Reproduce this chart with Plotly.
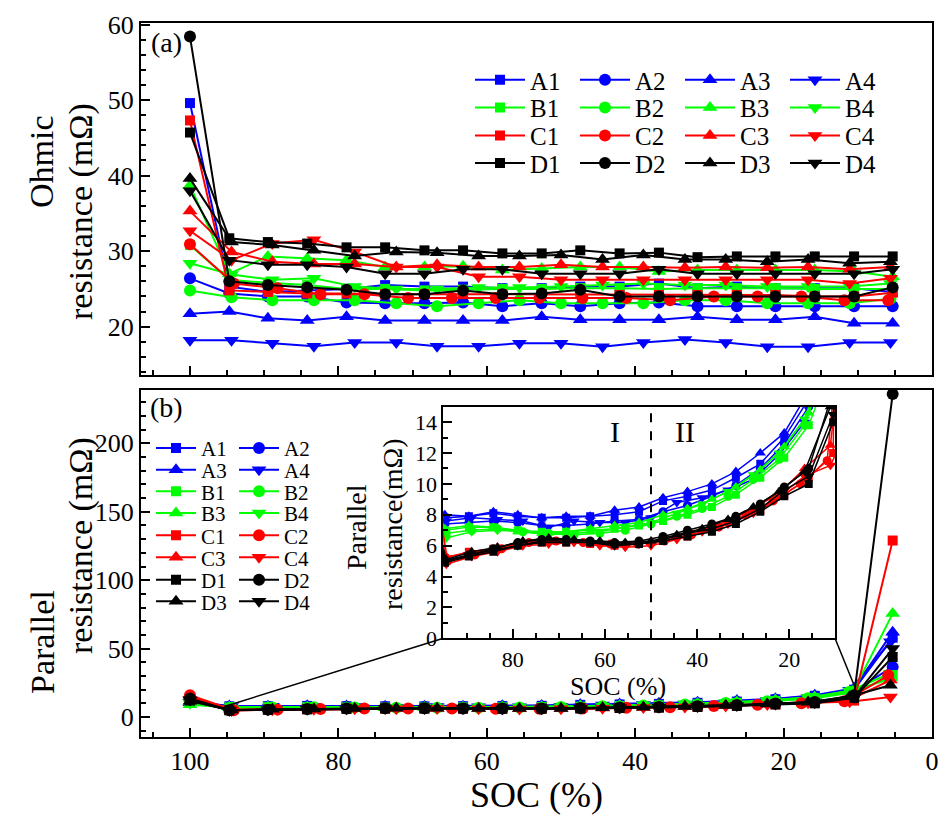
import plotly.graph_objects as go

# ---------------- data ----------------
soc19 = [100, 94.7, 89.5, 84.2, 78.9, 73.7, 68.4, 63.2, 57.9, 52.6, 47.4, 42.1, 36.8, 31.6, 26.3, 21.1, 15.8, 10.5, 5.3]
soc18 = [100, 94.4, 88.9, 83.3, 77.8, 72.2, 66.7, 61.1, 55.6, 50.0, 44.4, 38.9, 33.3, 27.8, 22.2, 16.7, 11.1, 5.6]
soc17 = [100, 94.1, 88.2, 82.4, 76.5, 70.6, 64.7, 58.8, 52.9, 47.1, 41.2, 35.3, 29.4, 23.5, 17.6, 11.8, 5.9]

cells = ["A1", "A2", "A3", "A4", "B1", "B2", "B3", "B4",
         "C1", "C2", "C3", "C4", "D1", "D2", "D3", "D4"]

soc_grid = {"A1": soc19, "A2": soc19, "A3": soc19, "A4": soc18,
            "B1": soc19, "B2": soc18, "B3": soc19, "B4": soc18,
            "C1": soc19, "C2": soc17, "C3": soc18, "C4": soc18,
            "D1": soc19, "D2": soc19, "D3": soc18, "D4": soc19}

# Ohmic resistance (mOhm)
ohm_A1 = [49.6, 25.3, 24.6, 24.8, 25.0, 25.5, 25.3, 25.3, 25.1, 25.1, 25.3, 25.3, 25.7, 25.1, 25.3, 25.1, 25.1, 25.1, 24.6]
ohm_A2 = [26.4, 24.4, 24.0, 24.0, 23.2, 23.1, 23.1, 23.2, 22.7, 23.1, 22.7, 23.1, 23.2, 22.7, 22.7, 22.7, 22.7, 22.7, 22.7]
ohm_A3 = [21.7, 22.0, 21.1, 20.8, 21.3, 20.8, 20.8, 20.8, 20.8, 21.3, 20.9, 20.9, 20.9, 21.3, 20.9, 20.9, 21.3, 20.45, 20.45]
ohm_A4 = [18.2, 18.2, 17.8, 17.4, 17.9, 17.9, 17.4, 17.4, 17.8, 17.8, 17.35, 17.9, 18.3, 17.9, 17.35, 17.35, 17.9, 17.9]
ohm_B1 = [30.8, 26.2, 25.8, 25.5, 25.0, 25.0, 24.8, 24.9, 25.0, 25.0, 25.1, 25.1, 25.0, 25.1, 25.1, 25.1, 25.0, 25.0, 25.0]
ohm_B2 = [24.8, 23.9, 23.5, 23.5, 23.5, 23.1, 22.7, 23.1, 23.5, 23.1, 23.1, 23.1, 23.5, 23.5, 23.1, 23.1, 23.1, 23.7]
ohm_B3 = [38.7, 27.0, 29.3, 29.0, 28.8, 27.9, 27.9, 28.0, 27.5, 27.7, 27.9, 27.9, 27.3, 27.5, 27.5, 27.5, 27.5, 27.3, 26.6]
ohm_B4 = [28.4, 26.9, 26.2, 26.4, 25.3, 25.0, 25.0, 25.2, 25.2, 25.3, 25.5, 25.7, 25.5, 25.5, 25.3, 25.3, 25.3, 25.7]
ohm_C1 = [47.3, 24.8, 24.6, 24.4, 24.4, 24.3, 24.3, 24.3, 24.3, 24.3, 24.3, 24.2, 24.2, 24.2, 24.2, 24.2, 24.0, 24.0, 24.5]
ohm_C2 = [30.9, 25.7, 25.1, 24.3, 24.3, 23.8, 23.8, 23.8, 23.8, 23.8, 23.8, 23.5, 24.0, 24.0, 24.0, 23.5, 23.5]
ohm_C3 = [35.3, 29.9, 28.6, 28.3, 28.3, 27.9, 28.2, 27.9, 27.9, 28.2, 27.9, 27.9, 27.8, 27.9, 27.8, 27.9, 27.6, 27.9]
ohm_C4 = [32.7, 28.8, 31.0, 31.5, 29.9, 27.9, 27.9, 26.6, 26.6, 26.2, 26.2, 26.2, 26.2, 26.2, 26.2, 26.2, 25.7, 26.4]
ohm_D1 = [45.7, 31.7, 31.2, 31.0, 30.5, 30.5, 30.1, 30.1, 29.7, 29.7, 30.1, 29.7, 29.8, 29.2, 29.3, 29.3, 29.3, 29.3, 29.3]
ohm_D2 = [58.4, 26.0, 25.5, 25.2, 24.9, 24.3, 24.3, 24.8, 24.3, 24.4, 24.9, 24.0, 24.0, 24.0, 24.0, 24.0, 24.0, 24.0, 25.2]
ohm_D3 = [39.6, 31.2, 30.8, 30.1, 29.35, 29.9, 29.8, 29.35, 29.35, 29.5, 28.9, 29.5, 28.9, 28.9, 28.6, 28.9, 28.4, 28.6]
ohm_D4 = [38.0, 28.8, 28.2, 28.2, 27.9, 27.0, 27.0, 27.6, 27.6, 27.0, 27.0, 27.0, 27.6, 27.0, 27.0, 27.0, 27.0, 27.0, 27.6]

# Parallel resistance (mOhm)
par_A1 = [12.0, 7.8, 7.9, 8.1, 7.9, 7.8, 7.8, 7.9, 8.0, 8.2, 8.9, 9.2, 9.6, 10.4, 11.3, 13.0, 15.5, 20.0, 58.0]
par_A2 = [11.5, 7.4, 7.5, 7.6, 7.5, 7.3, 7.3, 7.4, 7.6, 7.7, 8.2, 8.6, 9.2, 9.9, 11.0, 12.6, 15.0, 19.0, 36.6]
par_A3 = [10.5, 8.0, 7.9, 8.2, 8.0, 7.8, 7.9, 7.9, 8.3, 8.5, 9.1, 9.5, 10.0, 10.8, 12.0, 13.3, 16.0, 21.0, 62.0]
par_A4 = [11.0, 7.6, 7.8, 7.7, 7.6, 7.2, 7.6, 7.5, 7.5, 7.8, 8.8, 9.1, 9.6, 10.3, 11.9, 14.0, 19.5, 55.0]
par_B1 = [10.5, 7.0, 7.2, 7.2, 7.0, 6.9, 6.9, 7.0, 7.1, 7.3, 7.6, 8.0, 8.5, 9.3, 10.4, 11.7, 13.8, 18.0, 30.0]
par_B2 = [11.0, 6.8, 7.0, 7.1, 6.9, 6.8, 6.7, 6.8, 7.0, 7.4, 7.9, 8.4, 9.2, 10.3, 11.6, 13.8, 18.5, 28.0]
par_B3 = [9.0, 7.1, 7.3, 7.2, 6.9, 6.8, 6.9, 7.1, 7.3, 7.5, 8.0, 8.4, 9.0, 9.8, 10.9, 12.4, 14.6, 20.0, 75.6]
par_B4 = [10.0, 6.5, 6.9, 7.0, 6.9, 6.7, 6.8, 6.9, 7.2, 7.5, 8.1, 8.7, 9.5, 10.6, 12.0, 14.2, 19.0, 32.0]
par_C1 = [14.0, 5.2, 5.6, 5.8, 6.1, 6.2, 6.2, 6.1, 6.0, 6.1, 6.3, 6.6, 7.0, 7.6, 8.3, 9.3, 10.4, 12.0, 129.0]
par_C2 = [15.9, 5.0, 5.4, 5.8, 6.2, 6.3, 6.2, 6.1, 6.1, 6.3, 6.7, 7.2, 8.0, 8.9, 10.0, 11.5, 30.5]
par_C3 = [15.0, 5.3, 5.5, 5.9, 6.2, 6.3, 6.3, 6.2, 6.1, 6.2, 6.6, 7.0, 7.6, 8.4, 9.4, 11.0, 12.5, 27.0]
par_C4 = [13.0, 4.8, 5.3, 5.6, 6.0, 6.1, 6.2, 6.0, 5.9, 6.0, 6.4, 6.9, 7.4, 8.1, 9.2, 10.5, 11.2, 14.6]
par_D1 = [12.0, 4.9, 5.3, 5.6, 6.0, 6.2, 6.2, 6.2, 6.1, 6.1, 6.3, 6.6, 6.9, 7.4, 8.2, 9.2, 10.0, 14.0, 43.9]
par_D2 = [13.5, 5.0, 5.4, 5.8, 6.2, 6.4, 6.4, 6.3, 6.2, 6.3, 6.6, 7.0, 7.4, 7.9, 8.7, 9.8, 11.0, 16.0, 236.0]
par_D3 = [11.5, 5.1, 5.6, 5.9, 6.3, 6.5, 6.4, 6.3, 6.2, 6.3, 6.7, 7.1, 7.7, 8.5, 9.5, 10.8, 15.0, 23.2]
par_D4 = [12.5, 5.0, 5.4, 5.7, 6.0, 6.3, 6.3, 6.2, 6.0, 6.1, 6.4, 6.8, 7.1, 7.6, 8.4, 9.6, 10.5, 14.5, 50.0]

ohmic = {"A1": ohm_A1, "A2": ohm_A2, "A3": ohm_A3, "A4": ohm_A4,
         "B1": ohm_B1, "B2": ohm_B2, "B3": ohm_B3, "B4": ohm_B4,
         "C1": ohm_C1, "C2": ohm_C2, "C3": ohm_C3, "C4": ohm_C4,
         "D1": ohm_D1, "D2": ohm_D2, "D3": ohm_D3, "D4": ohm_D4}
parallel = {"A1": par_A1, "A2": par_A2, "A3": par_A3, "A4": par_A4,
            "B1": par_B1, "B2": par_B2, "B3": par_B3, "B4": par_B4,
            "C1": par_C1, "C2": par_C2, "C3": par_C3, "C4": par_C4,
            "D1": par_D1, "D2": par_D2, "D3": par_D3, "D4": par_D4}

# ---------------- styling ----------------
colors = {"A": "#0000ff", "B": "#00ff00", "C": "#ff0000", "D": "#000000"}
symbols = {"1": "square", "2": "circle", "3": "triangle-up", "4": "triangle-down"}
msize_main = {"1": 10, "2": 12, "3": 13, "4": 13}
msize_inset = {"1": 8, "2": 9, "3": 10, "4": 10}
FONT = "'Liberation Serif', 'DejaVu Serif', 'Times New Roman', serif"

W, H = 951, 821
L, R, T, B = 141, 19, 23, 84
PW, PH = W - L - R, H - T - B


def px2x(px):
    return (px - L) / PW


def py2y(py):
    return (H - B - py) / PH


top_dom = [py2y(375), 1.0]
bot_dom = [0.0, py2y(390)]
ins_xdom = [px2x(443.3), px2x(835)]
ins_ydom = [py2y(638.3), py2y(406.7)]

xr = [106.6, 0]
yr_top = [13.6, 60.2]
yr_bot = [-14.6, 239]
xr_ins = [95.05, 10.1]
yr_ins = [0, 15]

fig = go.Figure()

top_legend_of = {"A": "legend", "B": "legend2", "C": "legend3", "D": "legend4"}
bot_rows = {"A1": 5, "A2": 5, "A3": 6, "A4": 6, "B1": 7, "B2": 7, "B3": 8, "B4": 8,
            "C1": 9, "C2": 9, "C3": 10, "C4": 10, "D1": 11, "D2": 11, "D3": 12, "D4": 12}

for c in cells:
    col, num = colors[c[0]], c[1]
    fig.add_trace(go.Scatter(
        x=soc_grid[c], y=ohmic[c], xaxis="x", yaxis="y", name=c,
        mode="lines+markers", line=dict(color=col, width=2),
        marker=dict(symbol=symbols[num], size=msize_main[num], color=col),
        legend=top_legend_of[c[0]], showlegend=True))
for c in cells:
    col, num = colors[c[0]], c[1]
    fig.add_trace(go.Scatter(
        x=soc_grid[c], y=parallel[c], xaxis="x2", yaxis="y2", name=c,
        mode="lines+markers", line=dict(color=col, width=2),
        marker=dict(symbol=symbols[num], size=msize_main[num], color=col),
        legend="legend%d" % bot_rows[c], showlegend=True))
for c in cells:
    col, num = colors[c[0]], c[1]
    fig.add_trace(go.Scatter(
        x=soc_grid[c], y=parallel[c], xaxis="x3", yaxis="y3", name=c,
        mode="lines+markers", line=dict(color=col, width=1.5),
        marker=dict(symbol=symbols[num], size=msize_inset[num], color=col),
        showlegend=False))

tickfont = dict(family=FONT, size=26, color="black")
axis_common = dict(showline=True, linecolor="black", linewidth=2, mirror=True,
                   ticks="inside", ticklen=9, tickwidth=1.5, tickcolor="black",
                   showgrid=False, zeroline=False, tickfont=tickfont)
minor_common = dict(ticklen=5, ticks="inside", tickcolor="black", tickwidth=1.5)
inset_font = dict(family=FONT, size=22, color="black")

fig.update_layout(
    width=W, height=H, margin=dict(l=L, r=R, t=T, b=B),
    paper_bgcolor="white", plot_bgcolor="white",
    font=dict(family=FONT, color="black"),
    xaxis=dict(domain=[0, 1], anchor="y", range=xr, tick0=0, dtick=20,
               showticklabels=False, minor=dict(dtick=5, **minor_common), **axis_common),
    yaxis=dict(domain=top_dom, anchor="x", range=yr_top, tick0=0, dtick=10,
               minor=dict(dtick=2, **minor_common), **axis_common),
    xaxis2=dict(domain=[0, 1], anchor="y2", range=xr, tick0=0, dtick=20,
                minor=dict(dtick=5, **minor_common), **axis_common),
    yaxis2=dict(domain=bot_dom, anchor="x2", range=yr_bot, tick0=0, dtick=50,
                minor=dict(dtick=10, **minor_common), **axis_common),
    xaxis3=dict(domain=ins_xdom, anchor="y3", range=xr_ins, tick0=0, dtick=20,
                minor=dict(dtick=5, **minor_common),
                **{**axis_common, "tickfont": inset_font}),
    yaxis3=dict(domain=ins_ydom, anchor="x3", range=yr_ins, tick0=0, dtick=2,
                minor=dict(dtick=1, **minor_common),
                **{**axis_common, "tickfont": inset_font}),
)

# legends: one per row
leg_common = dict(orientation="h", xanchor="left", yanchor="middle",
                  bgcolor="rgba(0,0,0,0)", borderwidth=0,
                  itemclick=False, itemdoubleclick=False)
top_rows_y = [80, 107.7, 135.7, 163.3]
for i, key in enumerate(["legend", "legend2", "legend3", "legend4"]):
    fig.update_layout({key: dict(x=px2x(470), y=py2y(top_rows_y[i]), entrywidth=40,
                                 itemwidth=50, font=dict(family=FONT, size=25, color="black"),
                                 **leg_common)})
bot_rows_y = [448.3, 470, 491.7, 513.3, 535.7, 557.7, 580, 601.7]
for i in range(8):
    fig.update_layout({"legend%d" % (i + 5): dict(x=px2x(151), y=py2y(bot_rows_y[i]), entrywidth=28,
                                                  itemwidth=40, font=dict(family=FONT, size=21, color="black"),
                                                  **leg_common)})


# connector lines between the bottom panel and the inset
def bx(v):
    return (xr[0] - v) / (xr[0] - xr[1])


def by(v):
    return bot_dom[0] + (v - yr_bot[0]) / (yr_bot[1] - yr_bot[0]) * (bot_dom[1] - bot_dom[0])


shapes = [
    dict(type="line", xref="paper", yref="paper", x0=bx(94.8), y0=by(8.6),
         x1=ins_xdom[0], y1=ins_ydom[0], line=dict(color="black", width=1.5)),
    dict(type="line", xref="paper", yref="paper", x0=ins_xdom[1], y0=ins_ydom[0],
         x1=bx(10.4), y1=by(22), line=dict(color="black", width=1.5)),
    dict(type="line", xref="x3", yref="y3", x0=50, x1=50, y0=0, y1=15,
         line=dict(color="black", width=2, dash="dash")),
]
fig.update_layout(shapes=shapes)

ann = []


def txt(text, x, y, size, angle=0, xref="paper", yref="paper"):
    ann.append(dict(text=text, x=x, y=y, xref=xref, yref=yref, showarrow=False,
                    textangle=angle, xanchor="center", yanchor="middle",
                    font=dict(family=FONT, size=size, color="black")))


txt("(a)", px2x(166), py2y(42), 28)
txt("(b)", px2x(166), py2y(407), 28)
txt("Ohmic", px2x(42), py2y(162), 34, -90)
txt("resistance (mΩ)", px2x(81), py2y(212), 34, -90)
txt("Parallel", px2x(42), py2y(642), 34, -90)
txt("resistance (mΩ)", px2x(81), py2y(546), 34, -90)
txt("SOC (%)", px2x(536), py2y(795), 36)
txt("Parallel", px2x(356), py2y(527), 28, -90)
txt("resistance(mΩ)", px2x(392), py2y(524), 28, -90)
txt("SOC (%)", px2x(618), py2y(686), 26)
txt("I", 57.8, 13.4, 30, 0, "x3", "y3")
txt("II", 42.6, 13.4, 30, 0, "x3", "y3")
fig.update_layout(annotations=ann)

fig.write_html("out.html")
